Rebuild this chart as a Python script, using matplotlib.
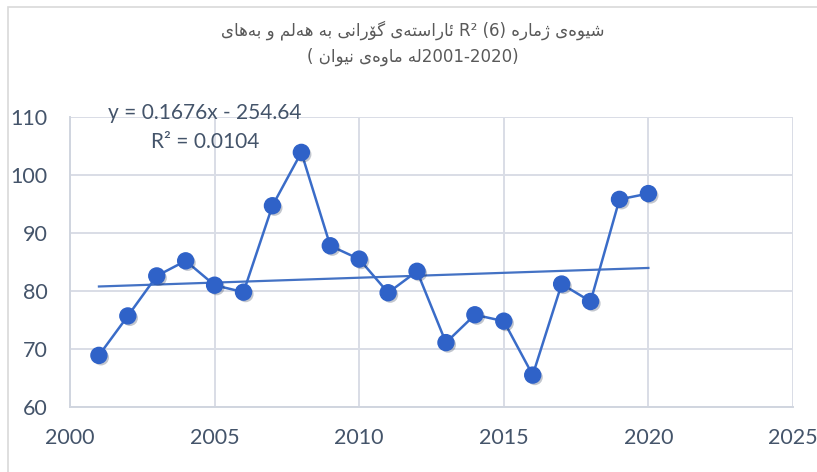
import numpy as np
import matplotlib
matplotlib.use("Agg")
import matplotlib.pyplot as plt
import matplotlib.patheffects as pe
from matplotlib.patches import Rectangle

# data
years = list(range(2001, 2021))
values = [68.9, 75.7, 82.6, 85.2, 81.0, 79.8, 94.7, 103.9, 87.8, 85.5,
          79.7, 83.4, 71.1, 75.9, 74.8, 65.5, 81.2, 78.2, 95.8, 96.8]
x_ticks = [2000, 2005, 2010, 2015, 2020, 2025]
y_ticks = [60, 70, 80, 90, 100, 110]
eq_label = "y = 0.1676x - 254.64"
r2_label = "R² = 0.0104"

# title pieces in the order they sit on the page, left to right
title_line1 = ["بەهای", " ", "و", " ", "هەڵم", " ", "بە", " ", "گۆرانی", " ",
               "ئاراستەی", " R² (6) ", "ژمارە", " ", "شێوەی"]
title_line2 = ["( ", "نێوان", " ", "ماوەی", " ", "لە", "2001-2020)"]

# isolated, final, initial, medial presentation forms
FORMS = {
    "ا": ("\uFE8D", "\uFE8E", None, None),
    "ب": ("\uFE8F", "\uFE90", "\uFE91", "\uFE92"),
    "ت": ("\uFE95", "\uFE96", "\uFE97", "\uFE98"),
    "ر": ("\uFEAD", "\uFEAE", None, None),
    "ژ": ("\uFB8A", "\uFB8B", None, None),
    "س": ("\uFEB1", "\uFEB2", "\uFEB3", "\uFEB4"),
    "ش": ("\uFEB5", "\uFEB6", "\uFEB7", "\uFEB8"),
    "ل": ("\uFEDD", "\uFEDE", "\uFEDF", "\uFEE0"),
    "ڵ": ("\u06B5", "\uFEDE", "\uFEDF", "\uFEE0"),
    "م": ("\uFEE1", "\uFEE2", "\uFEE3", "\uFEE4"),
    "ن": ("\uFEE5", "\uFEE6", "\uFEE7", "\uFEE8"),
    "ه": ("\uFEE9", "\uFEEA", "\uFEEB", "\uFEEC"),
    "ە": ("\u06D5", "\uFEEA", None, None),
    "و": ("\uFEED", "\uFEEE", None, None),
    "ۆ": ("\uFBD9", "\uFBDA", None, None),
    "ی": ("\uFBFC", "\uFBFD", "\uFBFE", "\uFBFF"),
    "ێ": ("\u06CE", "\uFBFD", "\uFBFE", "\uFBFF"),
    "ئ": ("\uFE89", "\uFE8A", "\uFE8B", "\uFE8C"),
    "گ": ("\uFB92", "\uFB93", "\uFB94", "\uFB95"),
}


def shape_word(word):
    # join the letters and flip them so they read right to left
    if not any(c in FORMS for c in word):
        return word
    out = []
    for i, c in enumerate(word):
        if c not in FORMS:
            out.append(c)
            continue
        prev = word[i - 1] if i > 0 else None
        nxt = word[i + 1] if i + 1 < len(word) else None
        join_prev = prev in FORMS and FORMS[prev][2] is not None
        join_next = FORMS[c][2] is not None and nxt in FORMS
        iso, fin, ini, med = FORMS[c]
        if join_prev and join_next:
            out.append(med)
        elif join_prev:
            out.append(fin)
        elif join_next:
            out.append(ini)
        else:
            out.append(iso)
    return "".join(reversed(out))


def build_title(parts):
    return "".join(shape_word(p) for p in parts)


fig = plt.figure(figsize=(8.17, 4.72), dpi=100)
fig.patch.set_facecolor("white")
fig.patches.append(Rectangle((8 / 817, -0.1), 2, 1.1 - 7 / 472, transform=fig.transFigure,
                             fill=False, edgecolor="#d9d9d9", linewidth=1.2))

ax = fig.add_axes([70 / 817, 65 / 472, 723 / 817, 290 / 472])

num_font = ["Lato", "DejaVu Sans"]
text_col = "#44546a"
blue = "#2f62c8"

# trendline from the data
coef = np.polyfit(years, values, 1)
trend_x = np.array([years[0], years[-1]])
ax.plot(trend_x, np.polyval(coef, trend_x), color="#4472c4", linewidth=1.6, zorder=3)

ax.plot(years, values, color="#3a6cc8", linewidth=1.8, zorder=4)
ax.plot(years, values, linestyle="none", marker="o", markersize=11.5,
        markerfacecolor=blue, markeredgecolor=blue, zorder=5,
        path_effects=[pe.SimplePatchShadow(offset=(1.5, -1.5), alpha=0.25), pe.Normal()])

ax.set_xlim(2000, 2025)
ax.set_ylim(60, 110)
ax.set_xticks(x_ticks)
ax.set_yticks(y_ticks)
ax.grid(True, color="#d9dde6", linewidth=1.4)
ax.set_axisbelow(True)
for side in ["top", "right"]:
    ax.spines[side].set_visible(False)
for side in ["left", "bottom"]:
    ax.spines[side].set_color("#d0d5df")
    ax.spines[side].set_linewidth(1.4)
ax.tick_params(length=0, colors=text_col, labelsize=15.5)
ax.tick_params(axis="x", pad=15)
ax.tick_params(axis="y", pad=16)
for lab in ax.get_xticklabels() + ax.get_yticklabels():
    lab.set_family(num_font)
    lab.set_color(text_col)

fig.text(205 / 817, 1 - 113 / 472, eq_label, ha="center", va="center",
         fontsize=15, color=text_col, family=num_font)
fig.text(205 / 817, 1 - 142 / 472, r2_label, ha="center", va="center",
         fontsize=15, color=text_col, family=num_font)

title_font = ["DejaVu Sans"]
fig.text(413 / 817, 1 - 30 / 472, build_title(title_line1), ha="center", va="center",
         fontsize=12, color="#595959", family=title_font)
fig.text(413 / 817, 1 - 57 / 472, build_title(title_line2), ha="center", va="center",
         fontsize=12, color="#595959", family=title_font)

fig.savefig("out.png", dpi=100)
